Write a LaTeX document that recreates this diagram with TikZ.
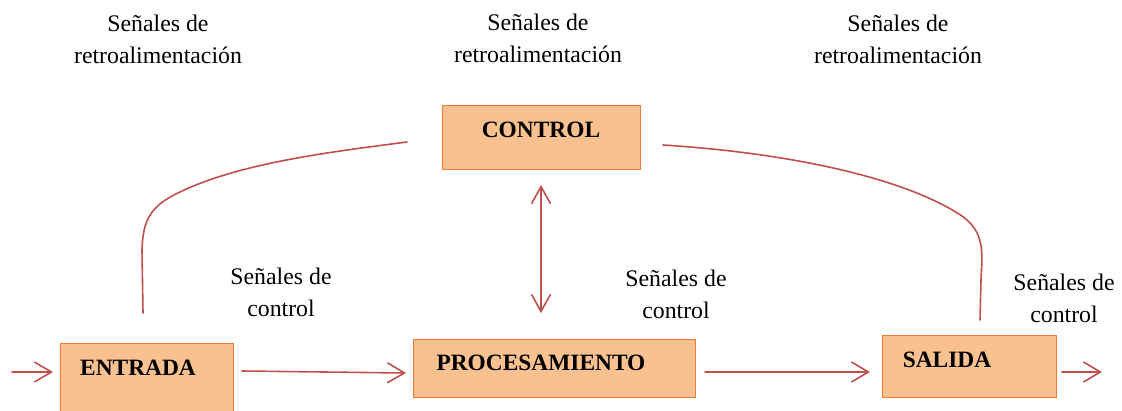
\documentclass[tikz,border=0pt]{standalone}
\usepackage{fontspec}
\setmainfont{Liberation Serif}
\usetikzlibrary{arrows.meta}
\definecolor{boxfill}{HTML}{F9C190}
\definecolor{boxline}{HTML}{ED7D31}
\definecolor{arr}{HTML}{C0504D}
\tikzset{
  blk/.style={draw=boxline, fill=boxfill, line width=1.3pt, inner sep=0pt},
  blktxt/.style={font=\fontsize{23.4}{23}\selectfont\bfseries, inner sep=0pt},
  lbl/.style={font=\fontsize{23.8}{32}\selectfont, align=center, inner sep=0pt},
  conn/.style={draw=arr, line width=1.6pt, line cap=round},
  vtip/.style={-{Straight Barb[length=17pt,width=20pt,line width=1.6pt]}},
}
\begin{document}
\begin{tikzpicture}[x=1pt,y=-1pt]
\useasboundingbox (0,0) rectangle (1122,410);
% boxes
\node[blk, minimum width=198pt, minimum height=64pt, anchor=north west] (control) at (442,105) {};
\node[blk, minimum width=173pt, minimum height=90pt, anchor=north west] (entrada) at (60,343) {};
\node[blk, minimum width=282pt, minimum height=58pt, anchor=north west] (proc) at (413,339) {};
\node[blk, minimum width=174pt, minimum height=62pt, anchor=north west] (salida) at (882,335) {};
% box texts
\node[blktxt] (controlT) at (541,130) {CONTROL};
\node[blktxt] (entradaT) at (138,368) {ENTRADA};
\node[blktxt] (procT) at (541,363) {PROCESAMIENTO};
\node[blktxt] (salidaT) at (947,360) {SALIDA};
% labels
\node[lbl] (r1) at (158,39) {Señales de\\retroalimentación};
\node[lbl] (r2) at (538,38) {Señales de\\retroalimentación};
\node[lbl] (r3) at (898,39) {Señales de\\retroalimentación};
\node[lbl] (c1) at (281,292) {Señales de\\control};
\node[lbl] (c2) at (676,294) {Señales de\\control};
\node[lbl] (c3) at (1064,298) {Señales de\\control};
% coordinates
\coordinate (inS) at (12,372);
\coordinate (outE) at (1102,372);
\coordinate (lcS) at (407,142);
\coordinate (lcE) at (143,313);
\coordinate (rcS) at (663,145);
\coordinate (rcE) at (980,320);
\coordinate (e1) at (242,371);
\coordinate (p1) at (406,373);
\coordinate (p2) at (705,372);
\coordinate (s1) at (870,372);
\coordinate (s2) at (1062,372);
\coordinate (i1) at (53,372);
\coordinate (d1) at (541,185);
\coordinate (d2) at (541,313);
% arrows
\draw[conn, vtip] (inS) -- (i1);
\draw[conn, vtip] (e1) -- (p1);
\draw[conn, vtip] (p2) -- (s1);
\draw[conn, vtip] (s2) -- (outE);
\draw[conn, {Straight Barb[length=17pt,width=19pt,line width=1.6pt]}-{Straight Barb[length=17pt,width=19pt,line width=1.6pt]}] (d1) -- (d2);
% feedback curves
\draw[conn] (lcS) .. controls (330,152) and (240,163) .. (180,192)
  .. controls (150,206) and (143,220) .. (142,250) -- (lcE);
\draw[conn] (rcS) .. controls (790,153) and (905,178) .. (962,216)
  .. controls (986,233) and (982,255) .. (981,280) -- (rcE);
\end{tikzpicture}
\end{document}
